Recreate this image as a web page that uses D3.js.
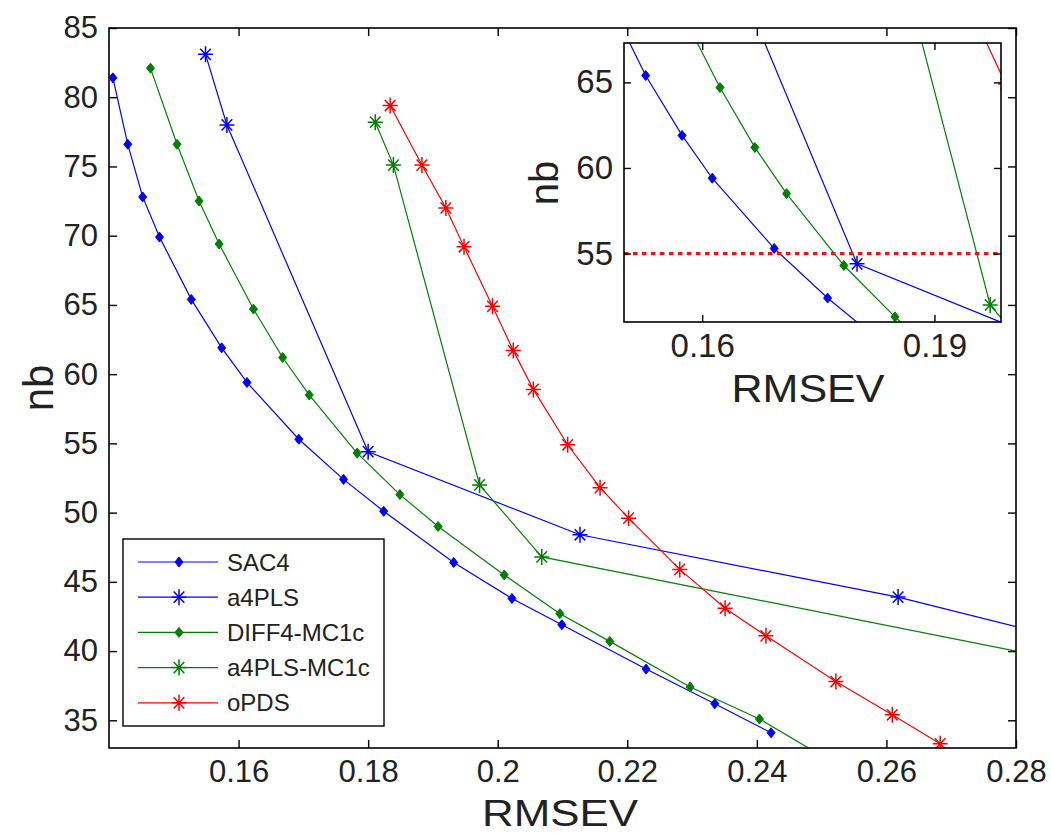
<!DOCTYPE html>
<html>
<head>
<meta charset="utf-8">
<script src="https://cdnjs.cloudflare.com/ajax/libs/d3/7.8.5/d3.min.js"></script>
<style>
body { margin: 0; background: #fff; }
svg text { font-family: "Liberation Sans", Arial, sans-serif; fill: #222; }
</style>
</head>
<body>
<svg id="chart"></svg>
<script>
// values: RMSEV (x) vs nb (y)
var sac4_x = [0.1406, 0.1429, 0.1452, 0.1478, 0.1527, 0.1574, 0.1613, 0.1693, 0.1762, 0.1824, 0.1932, 0.2022, 0.2099, 0.2229, 0.2335, 0.2422];
var sac4_y = [81.4, 76.6, 72.8, 69.9, 65.4, 61.9, 59.4, 55.3, 52.4, 50.1, 46.4, 43.8, 41.9, 38.7, 36.2, 34.1];

var a4pls_x = [0.1549, 0.1582, 0.1800, 0.2127, 0.2618, 0.3020];
var a4pls_y = [83.1, 78.0, 54.4, 48.4, 43.9, 39.2];

var diff4_x = [0.1464, 0.1505, 0.1539, 0.1570, 0.1623, 0.1668, 0.1709, 0.1783, 0.1849, 0.1908, 0.2010, 0.2096, 0.2173, 0.2297, 0.2404, 0.2516];
var diff4_y = [82.1, 76.6, 72.5, 69.4, 64.7, 61.2, 58.5, 54.3, 51.3, 49.0, 45.5, 42.7, 40.7, 37.4, 35.1, 32.0];

var a4plsmc_x = [0.1811, 0.1839, 0.1972, 0.2068, 0.2950];
var a4plsmc_y = [78.2, 75.1, 52.0, 46.8, 38.6];

var opds_x = [0.1834, 0.1883, 0.1920, 0.1948, 0.1992, 0.2024, 0.2055, 0.2108, 0.2158, 0.2202, 0.2281, 0.2351, 0.2414, 0.2522, 0.2609, 0.2683];
var opds_y = [79.4, 75.1, 72.0, 69.2, 64.9, 61.7, 58.9, 54.9, 51.8, 49.6, 45.9, 43.1, 41.1, 37.8, 35.4, 33.3];

var legendLabels = ["SAC4", "a4PLS", "DIFF4-MC1c", "a4PLS-MC1c", "oPDS"];

var xTicks = [0.16, 0.18, 0.2, 0.22, 0.24, 0.26, 0.28];
var yTicks = [35, 40, 45, 50, 55, 60, 65, 70, 75, 80, 85];
var insetXTicks = [0.16, 0.19];
var insetYTicks = [55, 60, 65];
var refLevel = [55];

window.onload = function() {
    const W = 1051, H = 833;
    const blue = "#0000ff", green = "#008000", red = "#ff0000";

    var series = [
        {name: legendLabels[0], xs: sac4_x, ys: sac4_y, color: blue, marker: "diamond"},
        {name: legendLabels[1], xs: a4pls_x, ys: a4pls_y, color: blue, marker: "star"},
        {name: legendLabels[2], xs: diff4_x, ys: diff4_y, color: green, marker: "diamond"},
        {name: legendLabels[3], xs: a4plsmc_x, ys: a4plsmc_y, color: green, marker: "star"},
        {name: legendLabels[4], xs: opds_x, ys: opds_y, color: red, marker: "star"}
    ];

    var svg = d3.select("#chart").attr("width", W).attr("height", H);
    var defs = svg.append("defs");

    function markerPath(type) {
        if (type === "diamond") return "M0,-5L4,0L0,5L-4,0Z";
        return "M-7.5,0H7.5M0,-8V8M-5.3,-5.6L5.3,5.6M-5.3,5.6L5.3,-5.6";
    }

    function fmt(d) { return String(+d.toFixed(2)); }

    // draws the lines + markers into g, clipped to the box
    function drawSeries(g, x, y, clipId) {
        var lay = g.append("g").attr("clip-path", "url(#" + clipId + ")");
        var line = d3.line().x(function(d) { return x(d[0]); }).y(function(d) { return y(d[1]); });
        series.forEach(function(s) {
            var pts = s.xs.map(function(v, i) { return [v, s.ys[i]]; });
            lay.append("path").datum(pts)
                .attr("d", line)
                .attr("fill", "none")
                .attr("stroke", s.color)
                .attr("stroke-width", 1.2);
            lay.selectAll(null).data(pts).enter().append("path")
                .attr("transform", function(d) { return "translate(" + x(d[0]) + "," + y(d[1]) + ")"; })
                .attr("d", markerPath(s.marker))
                .attr("fill", s.color)
                .attr("stroke", s.color)
                .attr("stroke-width", s.marker === "diamond" ? 1 : 1.5);
        });
    }

    function drawFrame(g, x, y, xt, yt, tick, fontSize) {
        var r = x.range(), t = y.range();
        g.append("g").attr("transform", "translate(0," + t[0] + ")")
            .call(d3.axisBottom(x).tickValues(xt).tickFormat(fmt).tickSizeInner(-tick).tickSizeOuter(0).tickPadding(12));
        g.append("g").attr("transform", "translate(0," + t[1] + ")")
            .call(d3.axisTop(x).tickValues(xt).tickFormat("").tickSizeInner(-tick).tickSizeOuter(0));
        g.append("g").attr("transform", "translate(" + r[0] + ",0)")
            .call(d3.axisLeft(y).tickValues(yt).tickFormat(fmt).tickSizeInner(-tick).tickSizeOuter(0).tickPadding(11));
        g.append("g").attr("transform", "translate(" + r[1] + ",0)")
            .call(d3.axisRight(y).tickValues(yt).tickFormat("").tickSizeInner(-tick).tickSizeOuter(0));
        g.selectAll(".domain").attr("stroke", "none");
        g.selectAll(".tick line").attr("stroke", "#000").attr("stroke-width", 1.4);
        g.selectAll(".tick text").attr("font-size", fontSize).attr("fill", "#222")
            .attr("font-family", "'Liberation Sans', Arial, sans-serif");
        g.append("rect")
            .attr("x", r[0]).attr("y", t[1])
            .attr("width", r[1] - r[0]).attr("height", t[0] - t[1])
            .attr("fill", "none").attr("stroke", "#000").attr("stroke-width", 1.6);
    }

    // main axes
    var x = d3.scaleLinear().domain([0.14, 0.28]).range([109, 1016]);
    var y = d3.scaleLinear().domain([33, 85]).range([748, 28]);

    defs.append("clipPath").attr("id", "clipMain").append("rect")
        .attr("x", 109).attr("y", 28).attr("width", 1016 - 109).attr("height", 748 - 28);

    var gMain = svg.append("g");
    drawSeries(gMain, x, y, "clipMain");
    drawFrame(gMain, x, y, xTicks, yTicks, 8, 31);

    svg.append("text")
        .attr("x", 560).attr("y", 826)
        .attr("text-anchor", "middle")
        .attr("font-size", 36)
        .attr("textLength", 156).attr("lengthAdjust", "spacingAndGlyphs")
        .text("RMSEV");
    svg.append("text")
        .attr("transform", "translate(53,388) rotate(-90)")
        .attr("text-anchor", "middle")
        .attr("font-size", 42)
        .text("nb");

    // legend
    var leg = svg.append("g");
    leg.append("rect")
        .attr("x", 123).attr("y", 539).attr("width", 261).attr("height", 187)
        .attr("fill", "#fff").attr("stroke", "#000").attr("stroke-width", 1.4);
    series.forEach(function(s, i) {
        var ly = 562 + i * 35.2;
        leg.append("line")
            .attr("x1", 138).attr("x2", 218).attr("y1", ly).attr("y2", ly)
            .attr("stroke", s.color).attr("stroke-width", 1.2);
        leg.append("path")
            .attr("transform", "translate(179," + ly + ")")
            .attr("d", markerPath(s.marker))
            .attr("fill", s.color).attr("stroke", s.color)
            .attr("stroke-width", s.marker === "diamond" ? 1 : 1.5);
        leg.append("text")
            .attr("x", 227).attr("y", ly).attr("dy", "0.36em")
            .attr("font-size", 24)
            .text(s.name);
    });

    // inset zoom
    var xi = d3.scaleLinear().domain([0.1499, 0.1986]).range([624, 1001]);
    var yi = d3.scaleLinear().domain([51.0, 67.3]).range([322, 43]);

    defs.append("clipPath").attr("id", "clipInset").append("rect")
        .attr("x", 624).attr("y", 43).attr("width", 1001 - 624).attr("height", 322 - 43);

    var gIn = svg.append("g");
    gIn.append("rect")
        .attr("x", 624).attr("y", 43).attr("width", 1001 - 624).attr("height", 322 - 43)
        .attr("fill", "#fff");
    drawSeries(gIn, xi, yi, "clipInset");

    gIn.selectAll(".ref").data(refLevel).enter().append("line")
        .attr("x1", xi.range()[0]).attr("x2", xi.range()[1])
        .attr("y1", function(d) { return yi(d); }).attr("y2", function(d) { return yi(d); })
        .attr("stroke", "#e8151b").attr("stroke-width", 3.2)
        .attr("stroke-dasharray", "4.5,4.5");

    drawFrame(gIn, xi, yi, insetXTicks, insetYTicks, 7, 33);

    svg.append("text")
        .attr("x", 808).attr("y", 402)
        .attr("text-anchor", "middle")
        .attr("font-size", 39)
        .attr("textLength", 153).attr("lengthAdjust", "spacingAndGlyphs")
        .text("RMSEV");
    svg.append("text")
        .attr("transform", "translate(558,183) rotate(-90)")
        .attr("text-anchor", "middle")
        .attr("font-size", 40)
        .text("nb");
};
</script>
</body>
</html>
